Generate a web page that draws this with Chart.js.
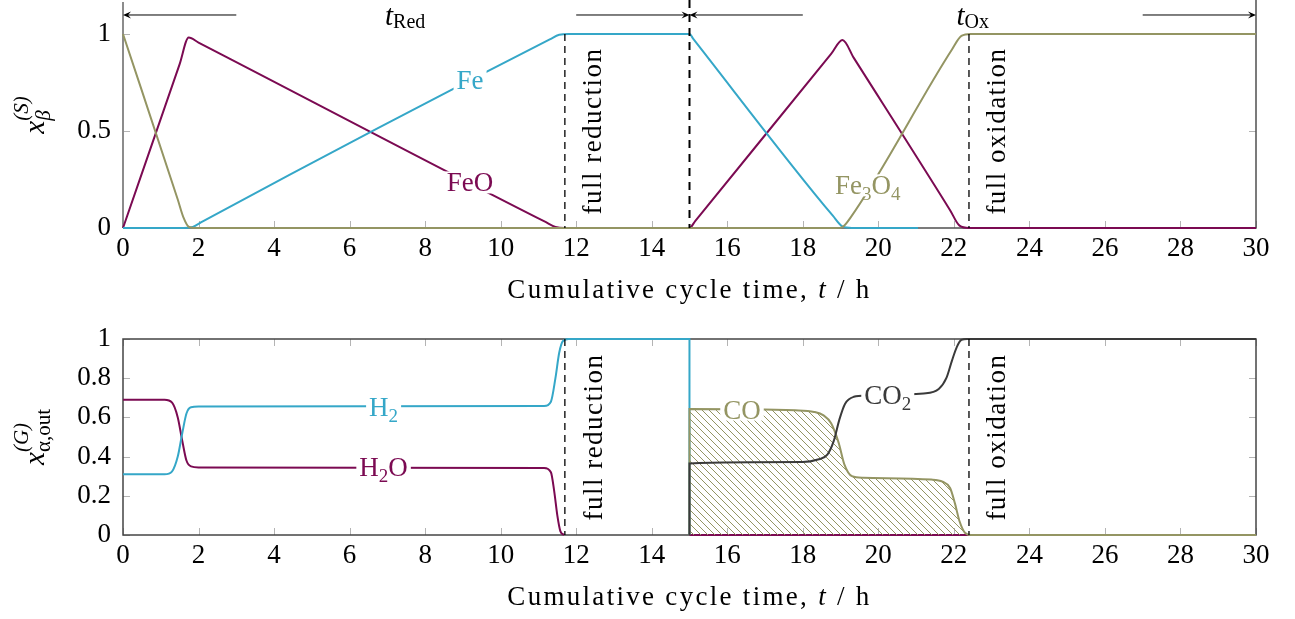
<!DOCTYPE html>
<html>
<head>
<meta charset="utf-8">
<script src="https://cdn.jsdelivr.net/npm/chart.js@4.4.1/dist/chart.umd.min.js"></script>
<style>
  body { margin: 0; background: #fff; width: 1295px; height: 619px; overflow: hidden; }
  .box { position: absolute; left: 0; width: 1295px; }
</style>
</head>
<body>
<div class="box" style="top:0;height:310px"><canvas id="top" width="1295" height="310"></canvas></div>
<div class="box" style="top:310px;height:309px"><canvas id="bottom" width="1295" height="309"></canvas></div>
<script>
// axis ticks
const xTicks = [0, 2, 4, 6, 8, 10, 12, 14, 16, 18, 20, 22, 24, 26, 28, 30]
const yTicksTop = [0, 0.5, 1]
const yTicksBot = [0, 0.2, 0.4, 0.6, 0.8, 1]

// solid phase fractions (top)
const fe3o4T = [0, 1.45, 1.6, 1.75, 1.95, 15, 18.9, 19.05, 19.25, 21.95, 22.2, 22.45, 30]
const fe3o4Y = [1, 0.147, 0.055, 0.005, 0, 0, 0, 0.005, 0.05, 0.92, 0.99, 1, 1]
const feT = [0, 1.6, 1.85, 2.1, 11.3, 11.55, 11.8, 15, 15.1, 18.8, 19.05, 19.3, 21.05]
const feY = [0, 0, 0.006, 0.033, 0.972, 0.996, 1, 1, 0.975, 0.062, 0.008, 0, 0]
const feoT = [0, 1.5, 1.74, 2.0, 11.2, 11.45, 11.7, 15, 15.15, 18.75, 19.05, 19.35, 21.9, 22.15, 22.4, 30]
const feoY = [0, 0.845, 0.982, 0.956, 0.03, 0.006, 0, 0, 0.036, 0.897, 0.969, 0.877, 0.092, 0.012, 0, 0]

// outlet gas fractions (bottom)
const h2T = [0, 1.1, 1.3, 1.45, 1.57, 1.68, 1.8, 2.0, 11.15, 11.33, 11.45, 11.55, 11.65, 11.8, 14.999, 15]
const h2Y = [0.31, 0.31, 0.325, 0.40, 0.52, 0.62, 0.652, 0.655, 0.658, 0.68, 0.80, 0.93, 0.99, 1, 1, 0]
const h2oT = [0, 1.1, 1.3, 1.45, 1.57, 1.68, 1.8, 2.0, 11.15, 11.33, 11.42, 11.5, 11.58, 11.68, 13, 15, 22.4]
const h2oY = [0.69, 0.69, 0.675, 0.60, 0.48, 0.38, 0.35, 0.345, 0.342, 0.32, 0.22, 0.10, 0.02, 0, null, 0, 0]
const coT = [14.999, 15, 17.8, 18.3, 18.55, 18.75, 18.95, 19.1, 19.3, 19.6, 21.4, 21.7, 21.9, 22.03, 22.15, 22.3, 22.45, 30]
const coY = [0, 0.643, 0.636, 0.628, 0.61, 0.57, 0.47, 0.36, 0.30, 0.292, 0.283, 0.272, 0.24, 0.16, 0.07, 0.01, 0, 0]
const co2T = [14.999, 15, 18.0, 18.4, 18.65, 18.82, 18.97, 19.12, 19.35, 19.7, 21.2, 21.6, 21.8, 21.95, 22.08, 22.2, 22.35, 30]
const co2Y = [0, 0.365, 0.372, 0.385, 0.41, 0.48, 0.59, 0.67, 0.705, 0.712, 0.722, 0.745, 0.80, 0.89, 0.96, 0.995, 1, 1]

const cyan = '#35a7c8'
const purple = '#7b0a52'
const olive = '#949563'
const dark = '#3a3a3a'

const F = 27, S = 19
const serif = '"Liberation Serif", "Times New Roman", serif'
const font = (sz, it) => (it ? 'italic ' : '') + sz + 'px ' + serif
const pts = (t, y) => t.map((v, i) => ({ x: v, y: y[i] }))

// diagonal hatch for CO
function hatch(color) {
  const c = document.createElement('canvas')
  c.width = 7; c.height = 7
  const g = c.getContext('2d')
  g.strokeStyle = color; g.lineWidth = 1
  g.beginPath()
  g.moveTo(-1, -1); g.lineTo(8, 8)
  g.moveTo(-1, 6); g.lineTo(1, 8)
  g.moveTo(6, -1); g.lineTo(8, 1)
  g.stroke()
  return g.createPattern(c, 'repeat')
}

// rich text: runs of {s, size, it, dy} or {stack: [run, run]}
function runW(ctx, r) {
  if (r.stack) return Math.max(...r.stack.map(q => runW(ctx, q)))
  ctx.font = font(r.size, r.it)
  return ctx.measureText(r.s).width
}
function drawRuns(ctx, runs, x, y, align) {
  const w = runs.reduce((a, r) => a + runW(ctx, r), 0)
  let cx = align === 'left' ? x : x - w / 2
  runs.forEach(r => {
    const list = r.stack || [r]
    list.forEach(q => {
      ctx.font = font(q.size, q.it)
      ctx.fillText(q.s, cx, y + (q.dy || 0))
    })
    cx += runW(ctx, r)
  })
  return w
}
const R = (s, o) => Object.assign({ s, size: F, it: false, dy: 0 }, o || {})
const sub = s => R(s, { size: S, dy: 6 })

function inlineLabel(ctx, runs, px, py, color) {
  ctx.textBaseline = 'alphabetic'
  const w = runs.reduce((a, r) => a + runW(ctx, r), 0)
  ctx.fillStyle = '#fff'
  ctx.fillRect(px - w / 2 - 3, py - 11, w + 6, 22)
  ctx.fillStyle = color
  drawRuns(ctx, runs, px, py + 9, 'center')
}

function vdash(ctx, px, y1, y2, lw, dash) {
  ctx.save()
  ctx.strokeStyle = '#000'; ctx.lineWidth = lw; ctx.setLineDash(dash)
  ctx.beginPath(); ctx.moveTo(px, y1); ctx.lineTo(px, y2); ctx.stroke()
  ctx.restore()
}

function rotText(ctx, text, bx, cy) {
  ctx.save()
  ctx.translate(bx, cy); ctx.rotate(-Math.PI / 2)
  ctx.letterSpacing = '1.5px'
  ctx.font = font(F, false); ctx.fillStyle = '#000'
  ctx.textAlign = 'center'; ctx.textBaseline = 'alphabetic'
  ctx.fillText(text, 0, 0)
  ctx.restore()
}

function arrow(ctx, x1, x2, y) {
  const d = Math.sign(x2 - x1)
  ctx.save()
  ctx.strokeStyle = '#000'; ctx.fillStyle = '#000'; ctx.lineWidth = 1
  ctx.beginPath(); ctx.moveTo(x1, y); ctx.lineTo(x2 - d * 3, y); ctx.stroke()
  ctx.beginPath()
  ctx.moveTo(x2, y)
  ctx.lineTo(x2 - d * 8, y - 3.5)
  ctx.lineTo(x2 - d * 5, y)
  ctx.lineTo(x2 - d * 8, y + 3.5)
  ctx.closePath(); ctx.fill()
  ctx.restore()
}

function xTitle(ctx, cx, by) {
  ctx.save()
  ctx.fillStyle = '#000'; ctx.textBaseline = 'alphabetic'
  ctx.letterSpacing = '2.3px'
  drawRuns(ctx, [R('Cumulative cycle time, '), R('t', { it: true }), R(' / h')], cx, by, 'center')
  ctx.restore()
}

function yTitle(ctx, runs, bx, cy) {
  ctx.save()
  ctx.translate(bx, cy); ctx.rotate(-Math.PI / 2)
  ctx.fillStyle = '#000'; ctx.textBaseline = 'alphabetic'
  drawRuns(ctx, runs, 0, 0, 'center')
  ctx.restore()
}

function inwardTicks(ctx, a, x, y, yTicks, topToo) {
  ctx.save()
  ctx.strokeStyle = '#b4b4b4'; ctx.lineWidth = 1
  ctx.beginPath()
  xTicks.forEach(v => {
    const px = Math.round(x.getPixelForValue(v)) + 0.5
    ctx.moveTo(px, a.bottom); ctx.lineTo(px, a.bottom - 7)
    if (topToo) { ctx.moveTo(px, a.top); ctx.lineTo(px, a.top + 7) }
  })
  yTicks.forEach(v => {
    const py = Math.round(y.getPixelForValue(v)) + 0.5
    ctx.moveTo(a.left, py); ctx.lineTo(a.left + 7, py)
    ctx.moveTo(a.right, py); ctx.lineTo(a.right - 7, py)
  })
  ctx.stroke()
  ctx.restore()
}

const topDeco = {
  id: 'topDeco',
  beforeDatasetsDraw(chart) {
    const { ctx, chartArea: a, scales: { x, y } } = chart
    inwardTicks(ctx, a, x, y, yTicksTop, false)
    ctx.save()
    ctx.lineWidth = 2; ctx.strokeStyle = '#8c8c8c'
    ctx.beginPath(); ctx.moveTo(a.left, a.top); ctx.lineTo(a.left, a.bottom); ctx.stroke()
    ctx.lineWidth = 1.5; ctx.strokeStyle = '#505050'
    ctx.beginPath(); ctx.moveTo(a.right, 0); ctx.lineTo(a.right, a.bottom); ctx.lineTo(a.left, a.bottom); ctx.stroke()
    ctx.restore()
  },
  afterDatasetsDraw(chart) {
    const { ctx, chartArea: a, scales: { x, y } } = chart
    const px = v => x.getPixelForValue(v), py = v => y.getPixelForValue(v)
    vdash(ctx, px(11.7), py(1), py(0), 1.3, [7, 5])
    vdash(ctx, px(22.4), py(1), py(0), 1.3, [7, 5])
    vdash(ctx, px(15), 0, py(0), 2, [8, 6])
    rotText(ctx, 'full reduction', px(11.7) + 36, py(0.5))
    rotText(ctx, 'full oxidation', px(22.4) + 36, py(0.5))
    ctx.save()
    inlineLabel(ctx, [R('Fe')], px(9.19), py(0.763), cyan)
    inlineLabel(ctx, [R('FeO')], px(9.19), py(0.235), purple)
    inlineLabel(ctx, [R('Fe'), sub('3'), R('O'), sub('4')], px(19.72), py(0.22), olive)
    ctx.restore()
    const ay = py(1.098)
    arrow(ctx, px(3), px(0), ay)
    arrow(ctx, px(12), px(15), ay)
    arrow(ctx, px(18), px(15), ay)
    arrow(ctx, px(27), px(30), ay)
    ctx.save()
    ctx.fillStyle = '#000'
    drawRuns(ctx, [R('t', { it: true, size: 29 }), R('Red', { size: 20, dy: 3 })], px(7.47), 25, 'center')
    drawRuns(ctx, [R('t', { it: true, size: 29 }), R('Ox', { size: 20, dy: 3 })], px(22.5), 25, 'center')
    ctx.restore()
    xTitle(ctx, (a.left + a.right) / 2, 298)
    yTitle(ctx, [R('x', { it: true, size: 29 }), { stack: [R('(S)', { size: 21, it: true, dy: -16 }), R('β', { size: 21, it: true, dy: 6 })] }], 44, (a.top + a.bottom) / 2)
  }
}

const botDeco = {
  id: 'botDeco',
  beforeDatasetsDraw(chart) {
    const { ctx, chartArea: a, scales: { x, y } } = chart
    inwardTicks(ctx, a, x, y, yTicksBot, true)
    ctx.save()
    ctx.lineWidth = 1.5; ctx.strokeStyle = '#444'
    ctx.strokeRect(a.left, a.top, a.right - a.left, a.bottom - a.top)
    ctx.restore()
  },
  afterDatasetsDraw(chart) {
    const { ctx, chartArea: a, scales: { x, y } } = chart
    const px = v => x.getPixelForValue(v), py = v => y.getPixelForValue(v)
    vdash(ctx, px(11.7), py(1), py(0), 1.3, [7, 5])
    vdash(ctx, px(22.4), py(1), py(0), 1.3, [7, 5])
    rotText(ctx, 'full reduction', px(11.7) + 37, py(0.5))
    rotText(ctx, 'full oxidation', px(22.4) + 36, py(0.5))
    ctx.save()
    inlineLabel(ctx, [R('H'), sub('2')], px(6.9), py(0.655), cyan)
    inlineLabel(ctx, [R('H'), sub('2'), R('O')], px(6.9), py(0.345), purple)
    inlineLabel(ctx, [R('CO')], px(16.39), py(0.64), olive)
    inlineLabel(ctx, [R('CO'), sub('2')], px(20.25), py(0.712), dark)
    ctx.restore()
    xTitle(ctx, (a.left + a.right) / 2, 295)
    yTitle(ctx, [R('x', { it: true, size: 29 }), { stack: [R('(G)', { size: 21, it: true, dy: -16 }), R('α,out', { size: 21, dy: 6 })] }], 44, (a.top + a.bottom) / 2)
  }
}

function line(label, t, v, color, extra) {
  return Object.assign({
    label, data: pts(t, v), borderColor: color, borderWidth: 2,
    pointRadius: 0, fill: false, cubicInterpolationMode: 'monotone', clip: 6
  }, extra || {})
}

function makeChart(id, datasets, yMax, yTicks, padTop, xHeight, deco) {
  return new Chart(document.getElementById(id), {
    type: 'line',
    data: { datasets },
    plugins: [deco],
    options: {
      responsive: false, animation: false, devicePixelRatio: 1, events: [],
      layout: { padding: { left: 0, right: 39, top: padTop, bottom: 0 } },
      plugins: { legend: { display: false }, tooltip: { enabled: false } },
      scales: {
        x: {
          type: 'linear', min: 0, max: 30,
          afterBuildTicks: s => { s.ticks = xTicks.map(v => ({ value: v })) },
          afterFit: s => { s.height = xHeight },
          grid: { display: false }, border: { display: false },
          ticks: { color: '#000', font: { family: serif, size: F }, padding: -3, maxRotation: 0, autoSkip: false }
        },
        y: {
          type: 'linear', min: 0, max: yMax,
          afterBuildTicks: s => { s.ticks = yTicks.map(v => ({ value: v })) },
          afterFit: s => { s.width = 123; s.paddingTop = 0; s.paddingBottom = 0 },
          grid: { display: false }, border: { display: false },
          ticks: { color: '#000', font: { family: serif, size: F }, padding: 4, callback: v => String(v) }
        }
      }
    }
  })
}

makeChart('top', [
  line('Fe3O4', fe3o4T, fe3o4Y, olive),
  line('Fe', feT, feY, cyan),
  line('FeO', feoT, feoY, purple)
], 1.165, yTicksTop, 2, 82, topDeco)

makeChart('bottom', [
  line('CO2', co2T, co2Y, dark),
  line('CO', coT, coY, olive, { fill: 'origin', backgroundColor: hatch(olive) }),
  line('H2', h2T, h2Y, cyan),
  line('H2O', h2oT, h2oY, purple)
], 1, yTicksBot, 29, 84, botDeco)
</script>
</body>
</html>
